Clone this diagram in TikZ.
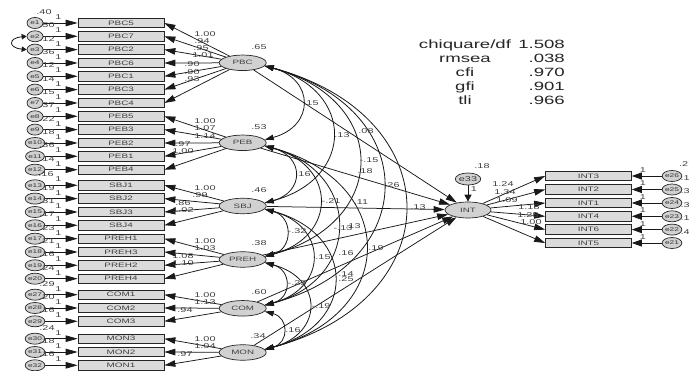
\documentclass[tikz,border=0pt]{standalone}
\usepackage{fontspec}
\setmainfont{Liberation Sans}[FakeStretch=1.55]
\usetikzlibrary{arrows.meta,shapes.geometric}
\begin{document}
\begin{tikzpicture}[x=1pt,y=1pt,
 box/.style={draw=black!85, fill=black!14, line width=0.7pt, minimum width=86pt, minimum height=9.5pt, inner sep=0pt, font=\fontsize{6.4}{7}\selectfont, text=black!75},
 lat/.style={ellipse, draw=black!85, fill=black!18, line width=0.7pt, minimum width=47pt, minimum height=15.5pt, inner sep=0pt, font=\fontsize{6.3}{7}\selectfont, text=black!75},
 err/.style={ellipse, draw=black!85, fill=black!18, line width=0.7pt, minimum width=16pt, minimum height=11pt, inner sep=0pt, font=\fontsize{5.4}{6}\selectfont, text=black!80},
 lbl/.style={inner sep=0pt, font=\fontsize{7}{8}\selectfont, text=black!75},
 stat/.style={inner sep=0pt, font=\fontsize{12}{13}\selectfont, text=black!85},
 earr/.style={draw=black!90, line width=0.75pt, -{Triangle[length=12pt,width=6.5pt]}},
 ld/.style={draw=black!90, line width=0.75pt, -{Triangle[length=11pt,width=6.5pt]}},
 cov/.style={draw=black!90, line width=0.8pt, {Triangle[length=9pt,width=5.5pt]}-{Triangle[length=9pt,width=5.5pt]}},
]
\fill[white] (0,0) rectangle (689,-371);
\useasboundingbox (0,0) rectangle (689,-371);
\clip (0,0) rectangle (689,-371);

% latent variables
\node[lat] (PBC)  at (242.7,-62.8)  {PBC};
\node[lat] (PEB)  at (242.7,-142.8) {PEB};
\node[lat] (SBJ)  at (242.7,-206)   {SBJ};
\node[lat] (PREH) at (242.7,-259.5) {PREH};
\node[lat] (COM)  at (242.7,-308.3) {COM};
\node[lat] (MON)  at (242.7,-352.5) {MON};
\node[lat, minimum width=46pt, minimum height=16pt] (INT) at (468,-210) {INT};
\node[err, minimum width=23pt, minimum height=12pt, font=\fontsize{7}{8}\selectfont] (e33) at (468,-179) {e33};

% left indicators and errors
\foreach \n/\t/\y/\l/\e/\lt in {
 b1/PBC5/23/l1/e1/PBC, b2/PBC7/36.3/l2/e2/PBC, b3/PBC2/49.6/l3/e3/PBC,
 b4/PBC6/63/l4/e4/PBC, b5/PBC1/76.3/l5/e5/PBC, b6/PBC3/89.6/l6/e6/PBC,
 b7/PBC4/103/l7/e7/PBC,
 b8/PEB5/116.3/l8/e8/PEB, b9/PEB3/129.6/l9/e9/PEB, b10/PEB2/143/l10/e10/PEB,
 b11/PEB1/156.3/l11/e11/PEB, b12/PEB4/169.7/l12/e12/PEB,
 b13/SBJ1/185.3/l13/e13/SBJ, b14/SBJ2/198.6/l14/e14/SBJ, b15/SBJ3/212/l15/e15/SBJ,
 b16/SBJ4/225.3/l16/e16/SBJ,
 b17/PREH1/238.7/l17/e17/PREH, b18/PREH3/252/l18/e18/PREH, b19/PREH2/265.3/l19/e19/PREH,
 b20/PREH4/278.7/l20/e20/PREH,
 b21/COM1/294.7/l21/e27/COM, b22/COM2/308/l22/e28/COM, b23/COM3/321.3/l23/e29/COM,
 b24/MON3/338.7/l24/e30/MON, b25/MON2/352/l25/e31/MON, b26/MON1/365.3/l26/e32/MON}{
 \node[box] (\n) at (121,-\y) {\t};
 \node[err] (\l) at (35,-\y) {\e};
 \draw[earr] (\l) -- (\n.west);
 \node[lbl] at (58.5,-\y+6) {1};
 \draw[ld] (\lt) -- (\n.east);
}

% error variances (left)
\foreach \x/\y/\v in {44/12.5/.40, 47/25.3/.50, 47/38.6/.12, 47/51.9/.36, 47/65.3/.12,
 47/78.6/.14, 47/91.9/.15, 47/105.3/.37, 47/118.6/.22, 47/131.9/.18, 47/145.3/.36,
 47/158.6/.14, 46/174/.16, 47/187.6/.19, 47/200.9/.31, 47/214.3/.17, 47/227.6/.23,
 47/241/.21, 47/254.3/.16, 47/267.6/.24, 47/284/.29, 47/297/.20, 47/310.3/.16,
 47/328/.24, 47/341/.18, 47/354.3/.16}{
 \node[lbl] at (\x,-\y) {\v};
}

% covariance between e2 and e3
\draw[draw=black!90, line width=0.8pt, {Triangle[length=5pt,width=5.5pt]}-{Triangle[length=5pt,width=5.5pt]}]
 (l2.west) .. controls (8,-38) and (8,-47.9) .. (l3.west);

% loadings
\foreach \x/\y/\v in {205/34.5/1.00, 202/41.5/.94, 201/48/.95, 203/55.5/1.01, 192/64.5/.90, 192/72/.90, 192/79/.93,
 205/121.5/1.00, 205/128.5/1.07, 205/136/1.14, 183/144/.97, 183/151.5/1.00,
 205/188/1.00, 200/195.5/.99, 183/203/.86, 183/210.5/1.02,
 205/241.5/1.00, 205/248.5/1.03, 183/256.5/1.08, 183/263.5/1.10,
 205/295/1.00, 205/302/1.13, 185/310/.94,
 205/339/1.00, 205/346.5/1.04, 185/354/.97}{
 \node[lbl] at (\x,-\y) {\v};
}

% latent variances
\node[lbl] at (259,-47.5) {.65};
\node[lbl] at (259,-127.5) {.53};
\node[lbl] at (259,-190) {.46};
\node[lbl] at (259,-243) {.38};
\node[lbl] at (259,-292.5) {.60};
\node[lbl] at (258,-336.5) {.34};

% covariances among latents
\foreach \a/\b/\lo in {PBC/PEB/1.8, PBC/SBJ/1.75, PBC/PREH/1.75, PBC/COM/1.75, PBC/MON/1.75,
 PEB/SBJ/1.85, PEB/PREH/1.75, PEB/COM/1.62, PEB/MON/1.75,
 SBJ/PREH/1.6, SBJ/COM/1.75, SBJ/MON/1.75,
 PREH/COM/1.7, PREH/MON/1.8, COM/MON/1.7}{
 \draw[cov] (\a.-8) to[out=-15,in=15,looseness=\lo] (\b.8);
}

% structural paths
\foreach \a in {PBC,PEB,SBJ,PREH,COM,MON}{
 \draw[ld] (\a) -- (INT);
}
\draw[draw=black!90, line width=0.75pt, -{Triangle[length=7pt,width=7pt]}] (e33) -- (INT);

% covariance and path labels
\foreach \x/\y/\v in {311/103/.15, 342/135/.13, 369/160/-.15, 392/185/.26, 418/207/.13,
 303/174/.16, 331/201.5/-.21, 343/228.5/-.13, 376/248/.19,
 297/231.5/-.32, 323/257/.15, 346/274/.14,
 297/283/-.25, 321/306/-.19, 293/330/.16,
 366/131.5/.08, 365/171/.18, 361/202/.11, 353/226/.13, 346/253/.16, 346/279.5/.25}{
 \node[lbl] at (\x,-\y) {\v};
}
\node[lbl] at (482,-166) {.18};
\node[lbl] at (474,-189) {1};

% right indicators
\foreach \n/\t/\y/\r/\e in {c1/INT3/176/r1/e26, c2/INT2/189.5/r2/e25, c3/INT1/203/r3/e24,
 c4/INT4/216.3/r4/e23, c5/INT6/229.6/r5/e22, c6/INT5/243/r6/e21}{
 \node[box] (\n) at (588.5,-\y) {\t};
 \node[err] (\r) at (672,-\y) {\e};
 \draw[draw=black!90, line width=0.75pt, -{Triangle[length=10pt,width=7pt]}] (\r) -- (\n.east);
 \node[lbl] at (643,-\y+6) {1};
 \draw[ld] (INT) -- (\n.west);
}
\foreach \y/\v in {178/.19, 191.5/.32, 205/.34, 218.3/.19, 231.6/.41}{
 \node[lbl, anchor=west] at (680.5,-\y) {\v};
}
\node[lbl, anchor=west] at (679,-164) {.27};
\foreach \x/\y/\v in {503/184.5/1.24, 505/192/1.34, 507/200/1.09, 529/207.5/1.18, 528/215/1.25, 531/222/1.00}{
 \node[lbl] at (\x,-\y) {\v};
}

% fit statistics
\foreach \y/\a/\b in {45.5/chiquare\slash df/1.508, 59.7/rmsea/.038, 73.9/cfi/.970, 88.1/gfi/.901, 102.3/tli/.966}{
 \node[stat, anchor=mid] at (465,-\y) {\a};
 \node[stat, anchor=mid east] at (565,-\y) {\b};
}
\end{tikzpicture}
\end{document}
